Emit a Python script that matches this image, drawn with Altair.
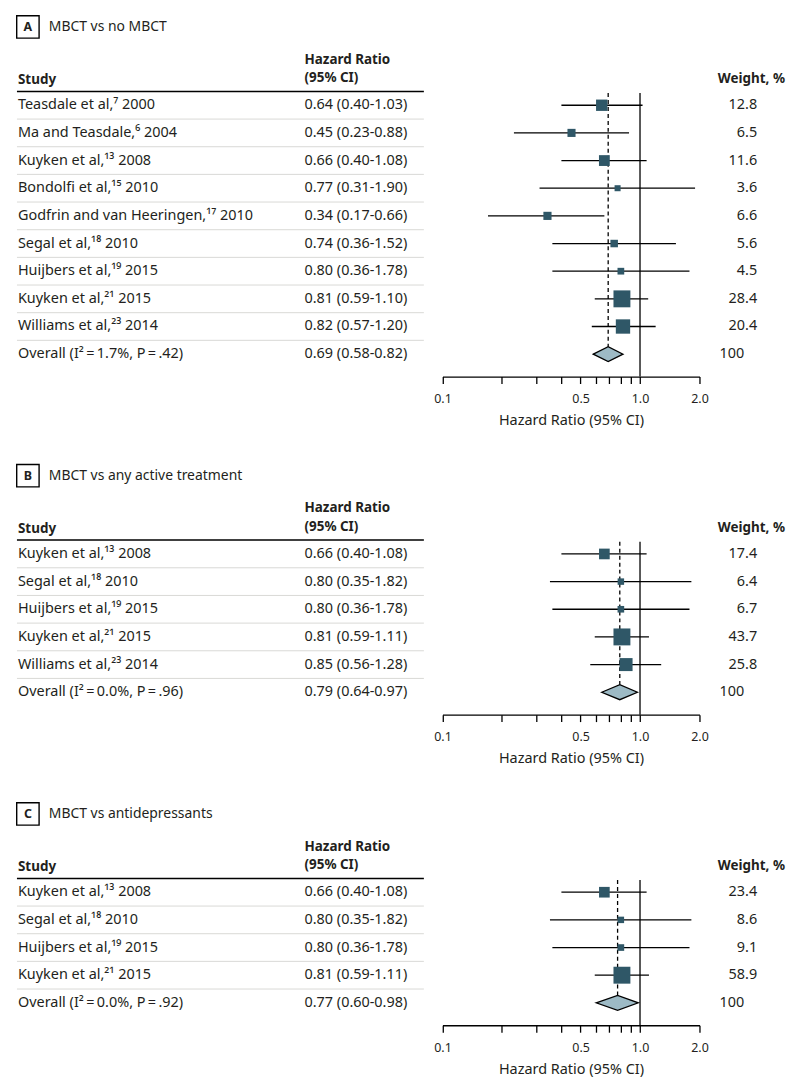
import altair as alt
import pandas as pd

FONT = "Noto Sans"
TXT = "#231f20"
SQ = "#2f5767"
DIA = "#9dbac5"
SEP = "#d9d9d6"
ROW = 27.8
TOP_TO_ROW1 = 91.0
AXIS_GAP = 22.5

# ---------------- Panel A ----------------
a_studies = ["Teasdale et al,\u2077 2000", "Ma and Teasdale,\u2076 2004", "Kuyken et al,\u00b9\u00b3 2008",
             "Bondolfi et al,\u00b9\u2075 2010", "Godfrin and van Heeringen,\u00b9\u2077 2010",
             "Segal et al,\u00b9\u2078 2010", "Huijbers et al,\u00b9\u2079 2015", "Kuyken et al,\u00b2\u00b9 2015",
             "Williams et al,\u00b2\u00b3 2014"]
a_hr = [0.64, 0.45, 0.66, 0.77, 0.34, 0.74, 0.80, 0.81, 0.82]
a_lo = [0.40, 0.23, 0.40, 0.31, 0.17, 0.36, 0.36, 0.59, 0.57]
a_hi = [1.03, 0.88, 1.08, 1.90, 0.66, 1.52, 1.78, 1.10, 1.20]
a_wt = [12.8, 6.5, 11.6, 3.6, 6.6, 5.6, 4.5, 28.4, 20.4]
a_overall = ["Overall (I\u00b2\u2009=\u20091.7%, P\u2009=\u2009.42)", 0.69, 0.58, 0.82]

# ---------------- Panel B ----------------
b_studies = ["Kuyken et al,\u00b9\u00b3 2008", "Segal et al,\u00b9\u2078 2010", "Huijbers et al,\u00b9\u2079 2015",
             "Kuyken et al,\u00b2\u00b9 2015", "Williams et al,\u00b2\u00b3 2014"]
b_hr = [0.66, 0.80, 0.80, 0.81, 0.85]
b_lo = [0.40, 0.35, 0.36, 0.59, 0.56]
b_hi = [1.08, 1.82, 1.78, 1.11, 1.28]
b_wt = [17.4, 6.4, 6.7, 43.7, 25.8]
b_overall = ["Overall (I\u00b2\u2009=\u20090.0%, P\u2009=\u2009.96)", 0.79, 0.64, 0.97]

# ---------------- Panel C ----------------
c_studies = ["Kuyken et al,\u00b9\u00b3 2008", "Segal et al,\u00b9\u2078 2010", "Huijbers et al,\u00b9\u2079 2015",
             "Kuyken et al,\u00b2\u00b9 2015"]
c_hr = [0.66, 0.80, 0.80, 0.81]
c_lo = [0.40, 0.35, 0.36, 0.59]
c_hi = [1.08, 1.82, 1.78, 1.11]
c_wt = [23.4, 8.6, 9.1, 58.9]
c_overall = ["Overall (I\u00b2\u2009=\u20090.0%, P\u2009=\u2009.92)", 0.77, 0.60, 0.98]

tick_values = [0.1, 0.2, 0.3, 0.4, 0.5, 0.6, 0.7, 0.8, 0.9, 1.0, 2.0]
label_expr = ("datum.value == 0.1 ? '0.1' : datum.value == 0.5 ? '0.5' : "
              "datum.value == 1 ? '1.0' : datum.value == 2 ? '2.0' : ''")


def fmt(v):
    return f"{v:.2f}"


def panel(letter, title, studies, hr, lo, hi, wt, overall, height):
    ov_label, ov_hr, ov_lo, ov_hi = overall
    n = len(studies)
    N = n + 1
    r0 = 1 - TOP_TO_ROW1 / ROW
    rH = r0 + height / ROW
    yscale = alt.Scale(domain=[r0, rH], reverse=True, zero=False, nice=False)
    axis_pix = TOP_TO_ROW1 + (N - 1) * ROW + AXIS_GAP
    xscale = alt.Scale(type="log", domain=[0.1, 2.0], range=[428.7, 687.0], nice=False)
    xaxis = alt.Axis(values=tick_values, labelExpr=label_expr, title="Hazard Ratio (95% CI)",
                     offset=-(height - axis_pix), tickSize=7, tickWidth=1.3, domainWidth=1.3,
                     domainColor="black", tickColor="black", labelColor=TXT, titleColor=TXT,
                     labelFont=FONT, titleFont=FONT, labelFontSize=12.5, titleFontSize=14.5,
                     titleFontWeight="normal", labelPadding=9, titlePadding=9, grid=False,
                     labelOverlap=False, labelFlush=False, labelBound=False)

    def X(field):
        return alt.X(field, type="quantitative", scale=xscale, axis=xaxis)

    def Y(field):
        return alt.Y(field, type="quantitative", scale=yscale, axis=None)

    rows = pd.DataFrame({
        "r": list(range(1, N + 1)),
        "study": studies + [ov_label],
        "ci": [f"{fmt(h)} ({fmt(l)}-{fmt(u)})" for h, l, u in zip(hr, lo, hi)]
              + [f"{fmt(ov_hr)} ({fmt(ov_lo)}-{fmt(ov_hi)})"],
    })
    st = pd.DataFrame({"r": list(range(1, n + 1)), "hr": hr, "lo": lo, "hi": hi, "wt": wt,
                       "wtxt": [f"{w:.1f}" for w in wt]})
    ov = pd.DataFrame({"r": [N], "wtxt": ["100"]})
    seps = pd.DataFrame({"r": [i + 0.5 for i in range(1, N)]})
    hline = pd.DataFrame({"r": [0.5]})
    diamond = pd.DataFrame({"x": [ov_lo, ov_hr, ov_hi], "ya": [N, N - 0.27, N], "yb": [N, N + 0.27, N]})
    dash = pd.DataFrame({"x": [ov_hr], "ya": [0.56], "yb": [N - 0.27]})
    solid = pd.DataFrame({"x": [1.0], "ya": [0.56], "yb": [N + AXIS_GAP / ROW]})

    FS = 14.5
    layers = []
    layers.append(alt.Chart(seps).mark_rule(color=SEP, strokeWidth=1).encode(
        x=alt.value(1), x2=alt.value(410), y=Y("r")))
    layers.append(alt.Chart(hline).mark_rule(color="black", strokeWidth=1.5).encode(
        x=alt.value(1), x2=alt.value(410), y=Y("r")))
    layers.append(alt.Chart(solid).mark_rule(color="black", strokeWidth=1.3).encode(
        x=X("x"), y=Y("ya"), y2="yb"))
    layers.append(alt.Chart(dash).mark_rule(color="black", strokeWidth=1.3, strokeDash=[4, 3]).encode(
        x=X("x"), y=Y("ya"), y2="yb"))
    layers.append(alt.Chart(st).mark_rule(color="black", strokeWidth=1.3).encode(
        x=X("lo"), x2="hi", y=Y("r")))
    layers.append(alt.Chart(st).mark_square(filled=True, color=SQ, opacity=1).encode(
        x=X("hr"), y=Y("r"),
        size=alt.Size("wt:Q", scale=alt.Scale(domain=[0, max(wt)], range=[0, 289]), legend=None)))
    layers.append(alt.Chart(diamond).mark_area(orient="vertical", fill=DIA, stroke="black",
                                               strokeWidth=1.3, opacity=1).encode(
        x=X("x"), y=Y("ya"), y2="yb"))
    # row texts
    body = dict(baseline="middle", font=FONT, fontSize=FS, color=TXT)
    layers.append(alt.Chart(rows).mark_text(align="left", **body).encode(
        x=alt.value(2), y=Y("r"), text="study"))
    layers.append(alt.Chart(rows).mark_text(align="left", **body).encode(
        x=alt.value(290), y=Y("r"), text="ci"))
    layers.append(alt.Chart(st).mark_text(align="right", **body).encode(
        x=alt.value(745), y=Y("r"), text="wtxt"))
    layers.append(alt.Chart(ov).mark_text(align="right", **body).encode(
        x=alt.value(732), y=Y("r"), text="wtxt"))
    # headers
    hdr = alt.Chart(pd.DataFrame({"a": [0]}))
    bold = dict(baseline="middle", font=FONT, fontSize=13.5, fontWeight="bold", color=TXT)
    layers.append(hdr.mark_text(align="left", text="Study", **bold).encode(
        x=alt.value(2), y=alt.value(66)))
    layers.append(hdr.mark_text(align="left", text="Hazard Ratio", **bold).encode(
        x=alt.value(290), y=alt.value(45.3)))
    layers.append(hdr.mark_text(align="left", text="(95% CI)", **bold).encode(
        x=alt.value(290), y=alt.value(64.0)))
    layers.append(hdr.mark_text(align="right", text="Weight, %", **bold).encode(
        x=alt.value(773), y=alt.value(65)))
    layers.append(hdr.mark_square(filled=False, stroke="black", strokeWidth=1.4, size=22.5 ** 2,
                                  opacity=1).encode(x=alt.value(12), y=alt.value(12.3)))
    layers.append(hdr.mark_text(align="center", text=letter, **{**bold, "fontSize": 12.5}).encode(
        x=alt.value(12), y=alt.value(12.8)))
    layers.append(hdr.mark_text(align="left", baseline="middle", font=FONT, fontSize=14, color=TXT,
                                text=title).encode(x=alt.value(33), y=alt.value(12.3)))

    return alt.layer(*layers).properties(width=775, height=height)


pA = panel("A", "MBCT vs no MBCT", a_studies, a_hr, a_lo, a_hi, a_wt, a_overall, 448.5)
pB = panel("B", "MBCT vs any active treatment", b_studies, b_hr, b_lo, b_hi, b_wt, b_overall, 337.3)
pC = panel("C", "MBCT vs antidepressants", c_studies, c_hr, c_lo, c_hi, c_wt, c_overall, 277)

chart = alt.vconcat(pA, pB, pC, spacing=0).resolve_scale(
    x="independent", y="independent", size="independent"
).configure_view(stroke=None).properties(
    padding={"left": 5, "top": 2, "right": 5, "bottom": 0}
)

chart.save("out.html", embed_options={"renderer": "svg", "actions": False})
